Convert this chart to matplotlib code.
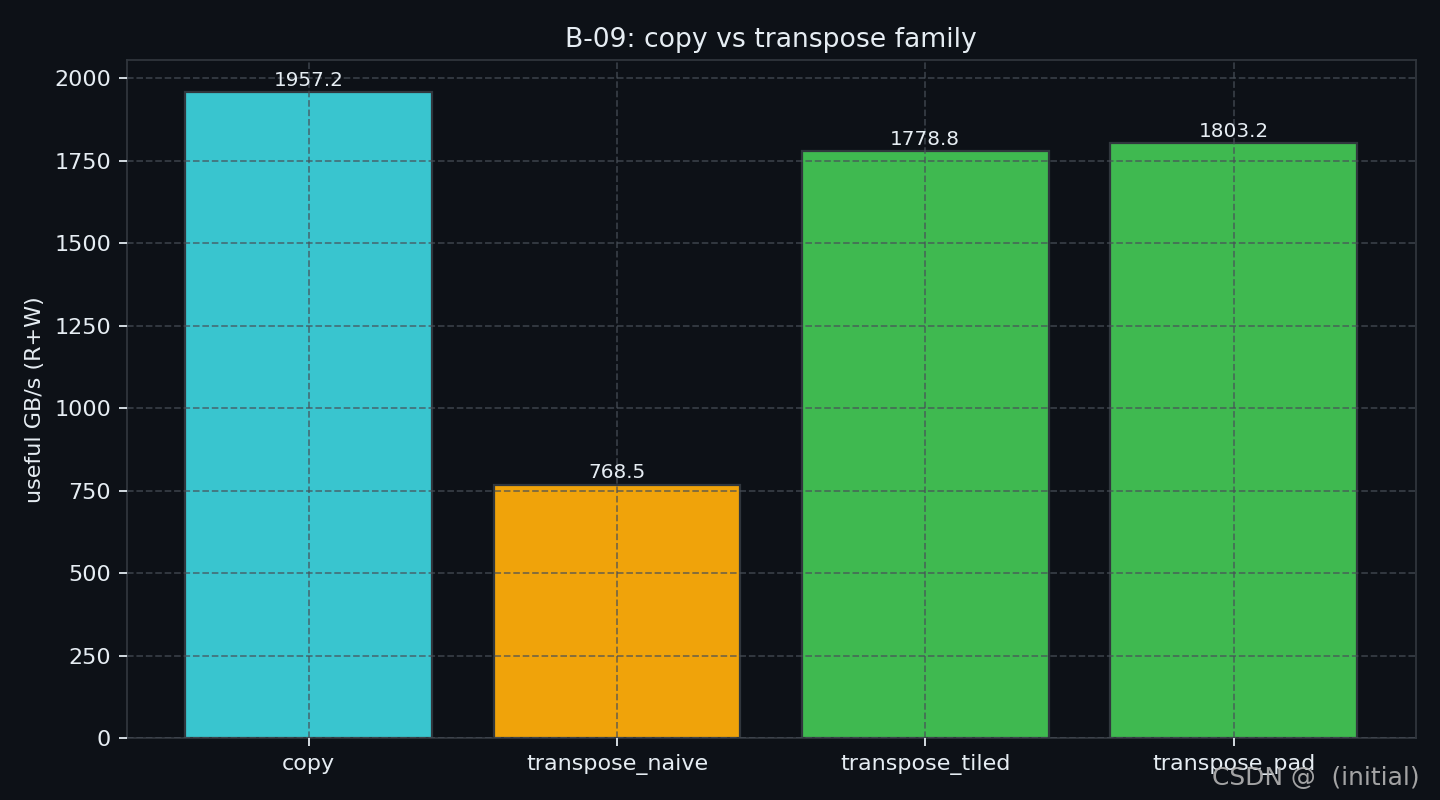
import matplotlib
matplotlib.use("Agg")
import matplotlib.pyplot as plt

names = ["copy", "transpose_naive", "transpose_tiled", "transpose_pad"]
gbps = [1957.2, 768.5, 1778.8, 1803.2]
colors = ["#39c5cf", "#f0a30a", "#3fb950", "#3fb950"]

bg = "#0d1117"
fg = "#e6edf3"
edge = "#30363d"

plt.rcParams["font.family"] = ["DejaVu Sans"]

fig, ax = plt.subplots(figsize=(9, 5), dpi=160)
fig.patch.set_facecolor(bg)
ax.set_facecolor(bg)

bars = ax.bar(names, gbps, color=colors, edgecolor=edge, linewidth=1.0)
ax.bar_label(bars, labels=[f"{v:.1f}" for v in gbps], fontsize=9, color=fg, padding=1)

ax.set_title("B-09: copy vs transpose family", color=fg, fontsize=12)
ax.set_ylabel("useful GB/s (R+W)", color=fg, fontsize=10)

ax.grid(True, linestyle="--", color="#484f58", alpha=0.7, linewidth=0.8)
ax.set_axisbelow(False)

ax.tick_params(colors=fg, labelsize=10)
for s in ax.spines.values():
    s.set_color(edge)

fig.subplots_adjust(left=0.088, right=0.983, top=0.925, bottom=0.077)

fig.text(0.986, 0.012, "CSDN @  (initial)", ha="right", va="bottom",
         fontsize=11.2, color="#b4b4b4", alpha=0.9)

fig.savefig("out.png", dpi=160, facecolor=bg)
